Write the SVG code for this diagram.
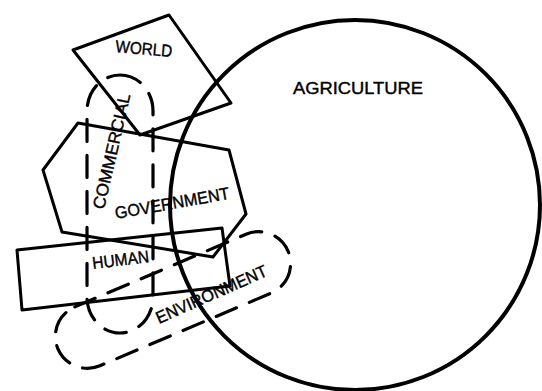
<svg xmlns="http://www.w3.org/2000/svg" width="542" height="391" viewBox="0 0 542 391">
<style>
.s{fill:none;stroke:#000;stroke-width:3;stroke-linejoin:round;stroke-linecap:round}
.c{fill:none;stroke:#000;stroke-width:4}
.d{fill:none;stroke:#000;stroke-width:3.2;stroke-dasharray:22 14;stroke-linecap:round}
.t{font-family:"Liberation Sans","DejaVu Sans",sans-serif;font-size:17px;fill:#000;stroke:#000;stroke-width:0.4}
</style>
<rect width="542" height="391" fill="#fff"/>
<g id="agriculture">
<circle class="c" cx="355" cy="205" r="185"/>
<text class="t" x="293" y="94" textLength="130" lengthAdjust="spacingAndGlyphs">AGRICULTURE</text>
</g>
<g id="world">
<polygon class="s" points="73,50 169,15 231,103 140,135"/>
<text class="t" x="115" y="52" font-size="16" textLength="57" lengthAdjust="spacingAndGlyphs" transform="rotate(5 115 52)">WORLD</text>
</g>
<g id="government">
<polygon class="s" points="78,123 229,150 246,214 213,257 62,232 43,170"/>
<text class="t" x="116" y="219" textLength="116" lengthAdjust="spacingAndGlyphs" transform="rotate(-10 116 219)">GOVERNMENT</text>
</g>
<g id="human">
<polygon class="s" points="17,250 222,228 230,286 22,310"/>
<text class="t" x="93" y="269" textLength="57" lengthAdjust="spacingAndGlyphs" transform="rotate(-7 93 269)">HUMAN</text>
</g>
<g id="commercial">
<rect class="d" x="87" y="75" width="66" height="258" rx="33" ry="36"/>
<text class="t" x="104" y="210" font-size="16" textLength="118" lengthAdjust="spacingAndGlyphs" transform="rotate(-77 104 210)">COMMERCIAL</text>
</g>
<g id="environment">
<rect class="d" x="48" y="268" width="250" height="64" rx="32" ry="32" transform="rotate(-23 173 300)"/>
<text class="t" x="159" y="324" textLength="120" lengthAdjust="spacingAndGlyphs" transform="rotate(-24 159 324)">ENVIRONMENT</text>
</g>
</svg>
